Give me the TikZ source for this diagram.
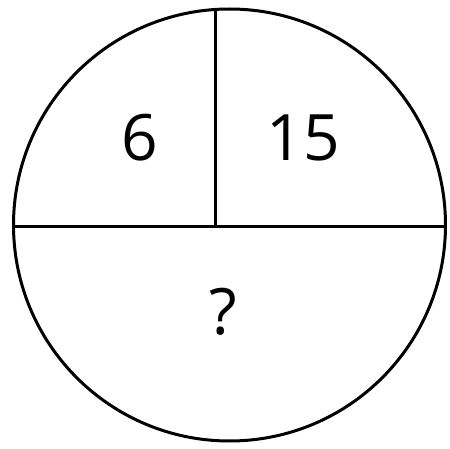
\documentclass[tikz,border=0pt]{standalone}
\usepackage{fontspec}
\setmainfont{Open Sans}
\usepackage{tikz}
\usetikzlibrary{positioning}

\begin{document}
\begin{tikzpicture}[
  x=1pt, y=1pt,
  rim/.style={draw, line width=3pt},
  num/.style={font=\fontsize{64}{64}\selectfont, inner sep=0pt}]
\useasboundingbox (0,0) rectangle (450,448);
\node[rim, circle, minimum size=432pt, inner sep=0pt] (disc) at (229.5,223) {};
\coordinate (top) at (215,440);
\coordinate (mid) at (215,222);
\draw[line width=3pt] (disc.west |- mid) -- (disc.east |- mid);
\draw[line width=3pt] (top) -- (mid);
\node[num] (left) at (140,310) {6};
\node[num] (right) at (303,310) {15};
\node[num] (ask) at (223,136) {?};
\end{tikzpicture}
\end{document}
